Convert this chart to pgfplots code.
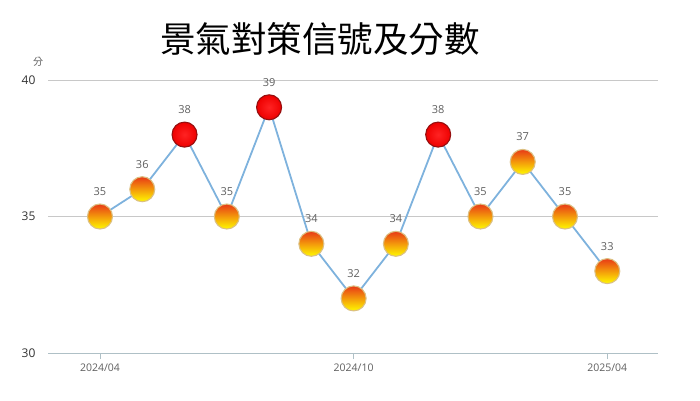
\documentclass[border=0pt]{standalone}
\usepackage{pgfplots}
\pgfplotsset{compat=1.18}
\usepackage{fontspec}
\setmainfont{Open Sans}
\newfontfamily\cjk{Noto Sans CJK TC}
\definecolor{lineBlue}{RGB}{126,178,221}
\definecolor{labGray}{RGB}{95,95,95}
\definecolor{gridGray}{RGB}{200,200,200}
\definecolor{axisGray}{RGB}{175,192,198}
\definecolor{ballTop}{RGB}{232,58,22}
\definecolor{ballMid}{RGB}{250,160,25}
\definecolor{ballBot}{RGB}{255,250,0}
\definecolor{ballRim}{RGB}{220,192,130}
\definecolor{redIn}{RGB}{255,35,35}
\definecolor{redOut}{RGB}{238,0,0}
\definecolor{redRim}{RGB}{150,15,15}

\tikzset{
  yball/.style={circle, inner sep=0pt, minimum size=25pt, draw=ballRim, line width=1.1pt,
                top color=ballTop, middle color=ballMid, bottom color=ballBot, anchor=center},
  rball/.style={circle, inner sep=0pt, minimum size=25pt, draw=redRim, line width=1.1pt,
                inner color=redIn, outer color=redOut, anchor=center},
}

\begin{document}
\begin{tikzpicture}[x=1pt,y=1pt]
\begin{axis}[
    at={(48pt,47pt)}, anchor=south west,
    scale only axis,
    width=610pt, height=273pt,
    xmin=-1.23, xmax=13.2,
    ymin=30, ymax=40,
    clip=false,
    axis lines=left,
    axis line style={-},
    y axis line style={draw=none},
    x axis line style={draw=axisGray, line width=0.8pt},
    ytick={30,35,40},
    xtick={0,6,12},
    xticklabels={2024/04,2024/10,2025/04},
    ymajorgrids,
    grid style={gridGray, line width=0.7pt},
    major tick length=6pt,
    xtick style={draw=axisGray, line width=0.8pt},
    ytick style={draw=none},
    tick align=outside,
    xticklabel style={font=\fontsize{10.5}{12}\selectfont, text=labGray, yshift=-1pt},
    yticklabel style={font=\fontsize{12}{14}\selectfont, text=black!80, xshift=-3pt},
    /pgf/number format/assume math mode=true,
]
\addplot[lineBlue, line width=1.8pt, mark=none] coordinates {
  (0,35) (1,36) (2,38) (3,35) (4,39) (5,34) (6,32)
  (7,34) (8,38) (9,35) (10,37) (11,35) (12,33)
};
% yellow-red balls
\addplot[draw=none, mark=none, nodes near coords={},
  every node near coord/.style={yball}] coordinates {
  (0,35) (1,36) (3,35) (5,34) (6,32) (7,34) (9,35) (10,37) (11,35) (12,33)
};
% red balls
\addplot[draw=none, mark=none, nodes near coords={},
  every node near coord/.style={rball}] coordinates {
  (2,38) (4,39) (8,38)
};
% value labels
\addplot[draw=none, mark=none, nodes near coords,
  nodes near coords style={font=\fontsize{11}{12}\selectfont, text=labGray,
      anchor=center, yshift=25pt}] coordinates {
  (0,35) (1,36) (2,38) (3,35) (4,39) (5,34) (6,32)
  (7,34) (8,38) (9,35) (10,37) (11,35) (12,33)
};
\end{axis}
\node[font=\cjk\fontsize{35.5}{40}\selectfont] at (320,361) {景氣對策信號及分數};
\node[font=\cjk\fontsize{10}{12}\selectfont, text=labGray] at (38,338) {分};
\pgfresetboundingbox
\path[use as bounding box] (0,0) rectangle (700,400);
\end{tikzpicture}
\end{document}
